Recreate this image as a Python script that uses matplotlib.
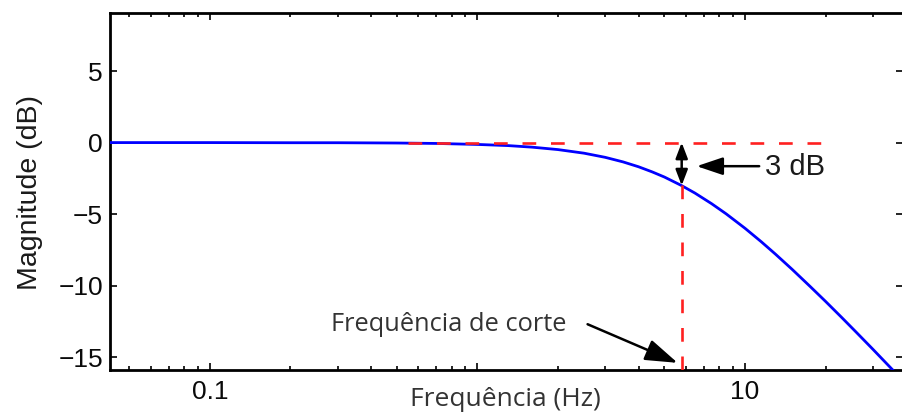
import matplotlib
matplotlib.use("Agg")
import matplotlib.pyplot as plt
from matplotlib.ticker import FixedLocator, LogLocator, NullFormatter

# Data
freq_hz = [0.042, 0.1, 0.2, 0.3, 0.5, 0.7, 1.0, 1.3, 1.6, 2.0, 2.5, 3.0, 3.5, 4.0,
           4.5, 5.0, 5.8, 6.5, 7.5, 8.5, 10.0, 11.5, 13.0, 15.0, 17.5, 20.0, 23.0,
           26.0, 30.0, 34.0, 39.0]
mag_db = [0.0, 0.0, -0.01, -0.01, -0.03, -0.06, -0.13, -0.21, -0.32, -0.49, -0.74,
          -1.03, -1.35, -1.69, -2.05, -2.41, -3.01, -3.53, -4.27, -4.98, -5.99,
          -6.93, -7.80, -8.86, -10.05, -11.10, -12.23, -13.24, -14.43, -15.49, -16.65]
ref_freq = [0.55, 20.0]
ref_level = [0.0, 0.0]
cut_freq = 5.8
cut_level = [0.0, -3.0]
xticks = [0.1, 1, 10]
xticklabels = ["0.1", "", "10"]
yticks = [5, 0, -5, -10, -15]
yticklabels = ["5", "0", "\u22125", "\u221210", "\u221215"]

fig = plt.figure(figsize=(9.02, 4.12), dpi=100)
ax = fig.add_axes([110 / 902, 1 - 370 / 412, 793 / 902, 357 / 412])

dash = (0, (5.2, 5.6))
ax.plot(freq_hz, mag_db, color="#0000ff", lw=2.0, zorder=3)
ax.plot(ref_freq, ref_level, color="#ff2020", lw=1.9, ls=dash, zorder=4)
ax.plot([cut_freq, cut_freq], [cut_level[1], -16.5], color="#ff2020", lw=1.9,
        ls=dash, zorder=4)

ax.set_xscale("log")
ax.set_xlim(0.0423, 38.97)
ax.set_ylim(-15.9, 9.06)

ax.xaxis.set_major_locator(FixedLocator(xticks))
ax.set_xticklabels(xticklabels)
ax.xaxis.set_minor_locator(LogLocator(base=10, subs=range(2, 10)))
ax.xaxis.set_minor_formatter(NullFormatter())
ax.set_yticks(yticks)
ax.set_yticklabels(yticklabels)

ax.tick_params(which="both", direction="in", top=True, right=True,
               width=1.2, labelsize=19, labelcolor="#0a0a0a")
ax.tick_params(which="major", length=5)
ax.tick_params(which="minor", length=3)
ax.tick_params(axis="x", pad=7)
ax.tick_params(axis="y", pad=5)
for lab in ax.get_xticklabels() + ax.get_yticklabels():
    lab.set_family("Liberation Sans")
for sp in ax.spines.values():
    sp.set_linewidth(2.0)

fig.text(30 / 902, 1 - 192 / 412, "Magnitude (dB)", rotation=90, ha="center",
         va="center", fontsize=20.5, family="Liberation Sans", color="#1a1a1a")
fig.text(505 / 902, 1 - 406 / 412, "Frequência (Hz)", ha="center",
         va="baseline", fontsize=19, family="Open Sans", color="#333333")

# double arrow for 3 dB
ax.annotate("", xy=(cut_freq, cut_level[0]), xytext=(cut_freq, cut_level[1]),
            arrowprops=dict(arrowstyle="<|-|>,head_length=0.47,head_width=0.18",
                            color="black", lw=1.8, mutation_scale=20,
                            shrinkA=0, shrinkB=0), zorder=5)
ax.annotate("", xy=(6.6, -1.65), xytext=(11.3, -1.65),
            arrowprops=dict(arrowstyle="-|>,head_length=0.8,head_width=0.27",
                            color="black", lw=1.8, mutation_scale=20,
                            shrinkA=0, shrinkB=0), zorder=5)
ax.text(11.85, -1.72, "3 dB", fontsize=21, family="Liberation Sans",
        color="#1a1a1a", va="center", ha="left", zorder=5)
ax.annotate("", xy=(5.6, -15.4), xytext=(2.58, -12.7),
            arrowprops=dict(arrowstyle="-|>,head_length=1.0,head_width=0.33",
                            color="black", lw=1.8, mutation_scale=20,
                            shrinkA=0, shrinkB=0), zorder=5)
ax.text(2.16, -12.75, "Frequência de corte", fontsize=18.3, family="Open Sans",
        color="#333333", va="center", ha="right", zorder=5)

fig.savefig("out.png", dpi=100)
